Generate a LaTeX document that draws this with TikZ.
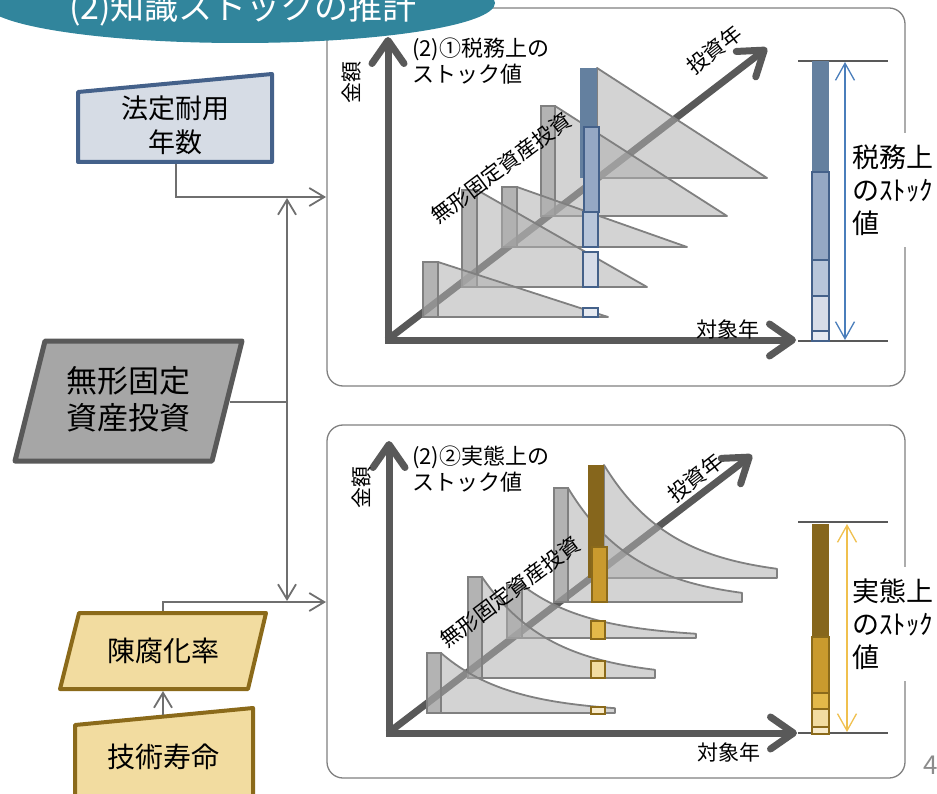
\documentclass[tikz,border=0pt]{standalone}
\usepackage{fontspec}
\setmainfont{Noto Sans CJK JP}
\usetikzlibrary{arrows.meta}
\definecolor{cTitle}{HTML}{31859C}
\definecolor{cPanel}{HTML}{808080}
\definecolor{cAxis}{HTML}{595959}
\definecolor{cConn}{HTML}{6F6F6F}
\definecolor{cTri}{HTML}{B0B0B0}
\definecolor{cTriEdge}{HTML}{808080}
\definecolor{cBar}{HTML}{A0A0A0}
\definecolor{cBlueD}{HTML}{64809F}
\definecolor{cBlueM}{HTML}{95A8C4}
\definecolor{cBlueL}{HTML}{B8C6DA}
\definecolor{cBlueXL}{HTML}{D6DCE8}
\definecolor{cBlueXXL}{HTML}{E6EAF1}
\definecolor{cBlueEdge}{HTML}{44618A}
\definecolor{cBlueArrow}{HTML}{4A7EBB}
\definecolor{cGoldD}{HTML}{86661C}
\definecolor{cGoldM}{HTML}{C99A2E}
\definecolor{cGoldL}{HTML}{E3B94A}
\definecolor{cGoldXL}{HTML}{F2DCA0}
\definecolor{cGoldXXL}{HTML}{F8EBCB}
\definecolor{cGoldEdge}{HTML}{8B6A1A}
\definecolor{cGoldArrow}{HTML}{F0C04E}
\definecolor{cBoxBlue}{HTML}{D6DCE5}
\definecolor{cBoxGray}{HTML}{A6A6A6}
\definecolor{cPageNo}{HTML}{8C8C8C}
\newcommand\TaxLayer[4]{% edge x, top y, base y, tip x
  \filldraw[tri] (#1,#2) -- (#4,#3) -- (#1,#3) -- cycle;
}
\newcommand\RealLayer[4]{% edge x, top y, base y, end x
  \pgfmathsetmacro\rlW{#4-#1}%
  \pgfmathsetmacro\rlH{#3-#2}%
  \filldraw[tri] (#1,#2) -- plot[domain=0:\rlW, samples=60, smooth] ({#1+\x},{#3-\rlH*exp(-0.0145*\x)}) -- (#4,#3) -- (#1,#3) -- cycle;
}
\begin{document}
\begin{tikzpicture}[x=1pt,y=-1pt,
  panelbox/.style={draw=cPanel, line width=1.3pt, rounded corners=16pt, fill=white},
  axisline/.style={draw=cAxis, line width=7pt, -{Straight Barb[round,length=23pt,width=32pt]}},
  conn/.style={draw=cConn, line width=1.8pt},
  connarrow/.style={conn, -{Straight Barb[length=15pt,width=18pt]}},
  tri/.style={fill=cTri, fill opacity=0.55, draw=cTriEdge, line width=1.8pt, line join=round},
  graybar/.style={fill=cBar, fill opacity=0.8, draw=cTriEdge, line width=1.8pt},
  bluebox/.style={draw=cBlueEdge, line width=2.2pt},
  goldbox/.style={draw=cGoldEdge, line width=2.2pt},
  lbl/.style={inner sep=0pt, font=\fontsize{21}{25}\selectfont},
  ttl/.style={inner sep=0pt, font=\fontsize{22}{26}\selectfont},
  sidelbl/.style={fill=white, inner xsep=3pt, inner ysep=12pt, align=left, font=\fontsize{27}{33}\selectfont},
  boxtext/.style={align=center, inner sep=0pt},
]
\useasboundingbox (0,0) rectangle (937,794);

% ---------- panels ----------
\draw[panelbox] (327,8) rectangle (905,386);
\draw[panelbox] (327,425) rectangle (905,778);

% ---------- top chart ----------
\coordinate (tO) at (391,337);
\coordinate (tDiag) at (767,48);
\draw[axisline] (tO) -- (tDiag);
\TaxLayer{597}{68}{178}{767}
\filldraw[graybar] (541,106) rectangle (555,216);
\TaxLayer{555}{106}{216}{727}
\filldraw[graybar] (502,187) rectangle (517,247);
\TaxLayer{517}{187}{247}{687}
\filldraw[graybar] (462,190) rectangle (477,287);
\TaxLayer{477}{190}{287}{647}
\filldraw[graybar] (423,262) rectangle (438,317);
\TaxLayer{438}{262}{317}{608}
\draw[axisline] (388,343.5) -- (388,37);
\draw[axisline] (384.5,340) -- (796,340);
\fill[cBlueD] (580,68) rectangle (597,178);
\filldraw[bluebox, fill=cBlueM] (584,127) rectangle (599,212);
\filldraw[bluebox, fill=cBlueL] (583,212) rectangle (598,247);
\filldraw[bluebox, fill=cBlueXL] (583,252) rectangle (598,287);
\filldraw[bluebox, fill=cBlueXXL] (583,308) rectangle (598,317);

\node[lbl, rotate=90] (tKin) at (352,83) {金額};
\node[ttl, anchor=west] (tT1) at (412,49) {(2)①税務上の};
\node[ttl, anchor=west] (tT2) at (412,74) {ストック値};
\node[lbl, rotate=38] (tTou) at (714,50) {投資年};
\node[lbl, rotate=37] (tMu) at (501,168) {無形固定資産投資};
\node[lbl] (tTai) at (728,330) {対象年};

% right bar (top)
\draw[cAxis, line width=1.8pt] (798,61) -- (888,61);
\draw[cAxis, line width=1.8pt] (798,341) -- (888,341);
\fill[cBlueD] (812,61) rectangle (829,172);
\filldraw[bluebox, fill=cBlueM] (812,172) rectangle (829,260);
\filldraw[bluebox, fill=cBlueL] (812,260) rectangle (829,296);
\filldraw[bluebox, fill=cBlueXL] (812,296) rectangle (829,331);
\filldraw[bluebox, fill=cBlueXXL] (812,331) rectangle (829,341);
\coordinate (tArrA) at (845,62);
\coordinate (tArrB) at (845,340);
\draw[cBlueArrow, line width=1.3pt, {Straight Barb[length=17pt,width=19pt]}-{Straight Barb[length=17pt,width=19pt]}] (tArrA) -- (tArrB);
\node[sidelbl, anchor=west] (tSide) at (849,190) {税務上\\のｽﾄｯｸ\\値};

% ---------- bottom chart ----------
\coordinate (bO) at (392,730);
\coordinate (bDiag) at (752,455);
\draw[axisline] (bO) -- (bDiag);
\RealLayer{604}{465}{578}{777}
\filldraw[graybar] (554,488) rectangle (568,602);
\RealLayer{568}{488}{602}{742}
\filldraw[graybar] (507,585) rectangle (522,638);
\RealLayer{522}{585}{638}{696}
\filldraw[graybar] (468,577) rectangle (482,678);
\RealLayer{482}{577}{678}{655}
\filldraw[graybar] (427,653) rectangle (441,713);
\RealLayer{441}{653}{713}{615}
\draw[axisline] (389,736.5) -- (389,441);
\draw[axisline] (385.5,733) -- (797,733);
\fill[cGoldD] (588,465) rectangle (604,578);
\filldraw[goldbox, fill=cGoldM] (592,547) rectangle (607,602);
\filldraw[goldbox, fill=cGoldL] (591,621) rectangle (605,639);
\filldraw[goldbox, fill=cGoldXL] (591,661) rectangle (605,678);
\filldraw[goldbox, fill=cGoldXXL] (591,707) rectangle (605,714);

\node[lbl, rotate=90] (bKin) at (362,487) {金額};
\node[ttl, anchor=west] (bT1) at (412,457) {(2)②実態上の};
\node[ttl, anchor=west] (bT2) at (412,482) {ストック値};
\node[lbl, rotate=38] (bTou) at (695,478) {投資年};
\node[lbl, rotate=37] (bMu) at (510,592) {無形固定資産投資};
\node[lbl] (bTai) at (729,753) {対象年};

% right bar (bottom)
\draw[cAxis, line width=1.8pt] (798,522) -- (888,522);
\draw[cAxis, line width=1.8pt] (798,733) -- (888,733);
\fill[cGoldD] (812,524) rectangle (829,637);
\filldraw[goldbox, fill=cGoldM] (812,637) rectangle (829,693);
\filldraw[goldbox, fill=cGoldL] (812,693) rectangle (829,709);
\filldraw[goldbox, fill=cGoldXL] (812,709) rectangle (829,727);
\filldraw[goldbox, fill=cGoldXXL] (812,727) rectangle (829,734);
\coordinate (bArrA) at (847,524);
\coordinate (bArrB) at (847,732);
\draw[cGoldArrow, line width=1.3pt, {Straight Barb[length=17pt,width=19pt]}-{Straight Barb[length=17pt,width=19pt]}] (bArrA) -- (bArrB);
\node[sidelbl, anchor=west] (bSide) at (849,624) {実態上\\のｽﾄｯｸ\\値};

% ---------- left boxes ----------
\draw[line width=4pt, draw=cBlueEdge, fill=cBoxBlue, line join=round] (78,92) -- (272,74) -- (272,162) -- (78,162) -- cycle;
\node[boxtext, font=\fontsize{27}{34}\selectfont] (hotei) at (175,125) {法定耐用\\年数};
\draw[line width=5pt, draw=cAxis, fill=cBoxGray, line join=round] (45,341) -- (242,341) -- (212,461) -- (15,461) -- cycle;
\node[boxtext, font=\fontsize{31}{37}\selectfont] (mukei) at (128,399) {無形固定\\資産投資};
\draw[line width=4pt, draw=cGoldEdge, fill=cGoldXL, line join=round] (79,613) -- (266,613) -- (248,689) -- (60,689) -- cycle;
\node[boxtext, font=\fontsize{28}{30}\selectfont] (chinpu) at (163,651) {陳腐化率};
\draw[line width=4pt, draw=cGoldEdge, fill=cGoldXL, line join=round] (75,725) -- (253,708) -- (253,805) -- (75,805) -- cycle;
\node[boxtext, font=\fontsize{28}{30}\selectfont] (gijutsu) at (163,757) {技術寿命};

% ---------- connectors ----------
\coordinate (hoteiB) at (176,164);
\coordinate (inTop) at (326,197);
\coordinate (jTop) at (287,198);
\coordinate (jMid) at (287,402);
\coordinate (jBot) at (287,601);
\coordinate (inBot) at (326,602);
\coordinate (mukeiR) at (230,402);
\coordinate (chinpuT) at (163,611);
\coordinate (chinpuB) at (163,691);
\coordinate (gijutsuT) at (163,715);
\draw[connarrow] (hoteiB) |- (inTop);
\draw[conn] (mukeiR) -- (jMid);
\draw[connarrow] (jMid) -- (jTop);
\draw[connarrow] (jMid) -- (jBot);
\draw[connarrow] (chinpuT) |- (inBot);
\draw[connarrow] (gijutsuT) -- (chinpuB);

% ---------- title & page number ----------
\fill[cTitle] (240,3) ellipse [x radius=255pt, y radius=40pt];
\node[inner sep=0pt, text=white, font=\fontsize{34}{40}\selectfont] (title) at (243,9) {(2)知識ストックの推計};
\node[inner sep=0pt, text=cPageNo, font=\fontsize{26}{30}\selectfont] (pageno) at (931,765) {4};
\end{tikzpicture}
\end{document}
